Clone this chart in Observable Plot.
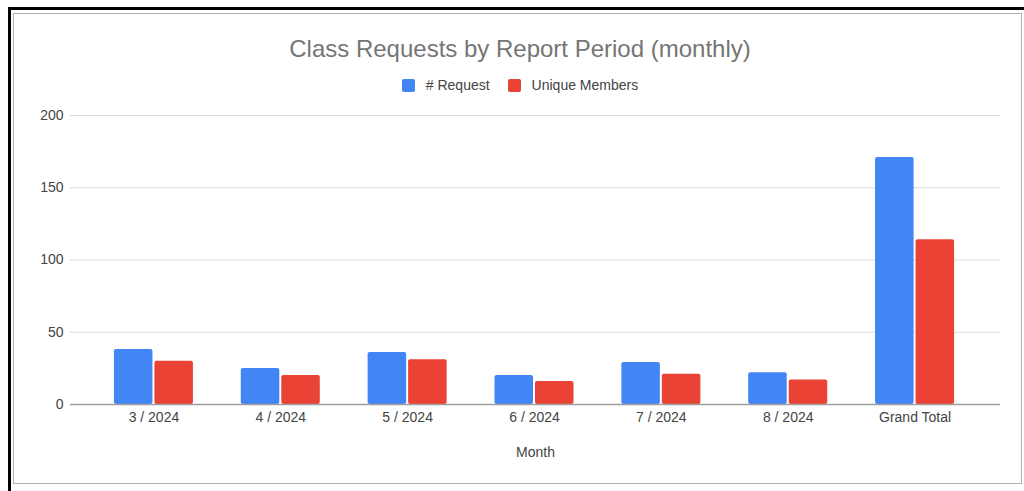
<!DOCTYPE html>
<html>
<head>
<meta charset="utf-8">
<script src="https://cdn.jsdelivr.net/npm/d3@7"></script>
<script src="https://cdn.jsdelivr.net/npm/@observablehq/plot@0.6"></script>
<style>
  html, body { margin: 0; padding: 0; background: #fff; width: 1024px; height: 491px; overflow: hidden; font-family: "Liberation Sans", Arial, sans-serif; }
  #black { position: absolute; left: 8px; top: 7px; width: 1030px; height: 500px; border-left: 3px solid #000; border-top: 3px solid #000; box-sizing: border-box; }
  #box { position: absolute; left: 13px; top: 13px; width: 1009px; height: 471px; border: 1px solid #b0b0b0; box-sizing: border-box; }
  #title { position: absolute; left: 0; width: 1040px; top: 35px; text-align: center; font-size: 24px; color: #757575; }
  #legend { position: absolute; left: 0; width: 1040px; top: 77px; display: flex; justify-content: center; font-size: 14px; color: #444; }
  .item { display: flex; align-items: center; margin: 0 9px; }
  .sw { width: 13px; height: 13px; border-radius: 2px; margin-right: 11px; }
  #chart { position: absolute; left: 0; top: 100px; }
</style>
</head>
<body>
<div id="black"></div>
<div id="box"></div>
<div id="title"></div>
<div id="legend"></div>
<div id="chart"></div>
<script>
const titleText = "Class Requests by Report Period (monthly)";
const seriesNames = ["# Request", "Unique Members"];
const seriesColors = ["#4285f4", "#ea4335"];
const months = ["3 / 2024", "4 / 2024", "5 / 2024", "6 / 2024", "7 / 2024", "8 / 2024", "Grand Total"];
const requests = [38, 25, 36, 20, 29, 22, 171];
const uniqueMembers = [30, 20, 31, 16, 21, 17, 114];
const yTicks = [0, 50, 100, 150, 200];
const xLabel = "Month";

document.getElementById("title").textContent = titleText;
const legend = document.getElementById("legend");
seriesNames.forEach((name, i) => {
  const item = document.createElement("div");
  item.className = "item";
  const sw = document.createElement("div");
  sw.className = "sw";
  sw.style.background = seriesColors[i];
  const label = document.createElement("span");
  label.textContent = name;
  item.appendChild(sw);
  item.appendChild(label);
  legend.appendChild(item);
});

const reqData = months.map((m, i) => ({month: m, value: requests[i]}));
const uniqData = months.map((m, i) => ({month: m, value: uniqueMembers[i]}));

const chart = Plot.plot({
  width: 1024,
  height: 380,
  marginLeft: 70,
  marginRight: 24,
  marginTop: 15,
  marginBottom: 76,
  style: {fontFamily: "Liberation Sans, Arial, sans-serif", fontSize: "14px", color: "#444", background: "transparent"},
  x: {domain: months, insetLeft: 20, insetRight: 22, paddingInner: 0.377, paddingOuter: 0.1885, round: false, label: null},
  y: {domain: [0, 200], label: null},
  marks: [
    Plot.ruleY(yTicks.filter(d => d > 0), {stroke: "#d9d9d9", strokeWidth: 1}),
    Plot.barY(reqData, {x: "month", y: "value", fill: seriesColors[0], insetRight: 40.5, rx: 2}),
    Plot.barY(uniqData, {x: "month", y: "value", fill: seriesColors[1], insetLeft: 40.5, rx: 2}),
    Plot.ruleY([0], {stroke: "#9e9e9e", strokeWidth: 1.5}),
    Plot.axisY({ticks: yTicks, tickSize: 0, tickPadding: 7, label: null, fill: "#444"}),
    Plot.axisX({tickSize: 0, tickPadding: 8, fill: "#444", label: xLabel, labelAnchor: "center", labelOffset: 52})
  ]
});
document.getElementById("chart").appendChild(chart);
</script>
</body>
</html>
